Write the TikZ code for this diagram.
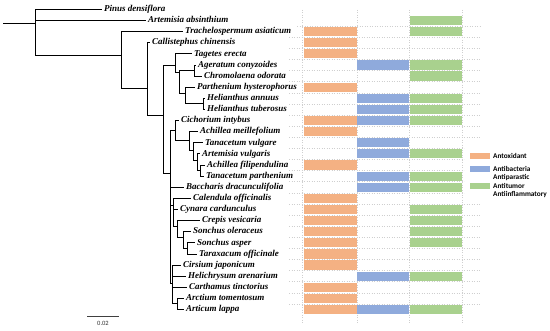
\documentclass[tikz,border=0pt]{standalone}
\usepackage{fontspec}
\setmainfont{Liberation Serif}
\newfontfamily\legfont{Carlito}
\definecolor{cOr}{HTML}{F4B183}
\definecolor{cBl}{HTML}{8FAADC}
\definecolor{cGr}{HTML}{A9D18E}
\definecolor{cGrid}{HTML}{CFCFCF}
\begin{document}
\begin{tikzpicture}[x=1pt,y=-1pt,
  tree/.style={line width=0.85pt,line cap=rect,black},
  leaf/.style={anchor=west,inner xsep=2.5pt,inner ysep=0pt,text height=6.3pt,text depth=1.8pt,
    font=\fontsize{9}{10}\selectfont\bfseries\itshape},
  gridln/.style={cGrid,line width=0.5pt,dotted},
  legbox/.style={minimum width=20pt,minimum height=6pt,inner sep=0pt,draw=none},
  legtxt/.style={anchor=west,inner sep=0pt,font=\legfont\fontsize{7.3}{8}\selectfont\bfseries}]
\useasboundingbox[fill=white] (0,0) rectangle (550,331);
\def\RY#1{9.4+(#1-1)*11.115}
% ---- grid ----
\foreach \gx in {302,357,409.5,462}
  \draw[gridln] (\gx,10) -- (\gx,323);
\foreach \k in {2,...,27}{
  \pgfmathsetmacro{\gy}{9.4+(\k-0.5)*11.115}
  \pgfmathsetmacro{\gxe}{(\gy>145 && \gy<197) ? 464 : 480}
  \pgfmathsetmacro{\gxs}{(\k==2) ? 297 : 289}
  \draw[gridln] (\gxs,\gy) -- (\gxe,\gy);
}
% ---- bars ----
\foreach \r in {3,4,5,8,11,12,15,18,19,20,21,22,23,24,26,27,28}
  \fill[cOr] (304,{\RY{\r}-4.6}) rectangle (356.7,{\RY{\r}+4.6});
\foreach \r in {6,9,10,11,13,14,16,17,25,28}
  \fill[cBl] (357.3,{\RY{\r}-4.6}) rectangle (409.2,{\RY{\r}+4.6});
\foreach \r in {2,3,6,7,9,10,11,14,16,17,19,20,21,22,25,28}
  \fill[cGr] (409.8,{\RY{\r}-4.6}) rectangle (462,{\RY{\r}+4.6});
% ---- leaves ----
\node[leaf] (L1) at (101.5,{\RY{1}}) {Pinus densiflora};
\node[leaf] (L2) at (145.5,{\RY{2}}) {Artemisia absinthium};
\node[leaf] (L3) at (182.5,{\RY{3}}) {Trachelospermum asiaticum};
\node[leaf] (L4) at (149.5,{\RY{4}}) {Callistephus chinensis};
\node[leaf] (L5) at (191.5,{\RY{5}}) {Tagetes erecta};
\node[leaf] (L6) at (195.5,{\RY{6}}) {Ageratum conyzoides};
\node[leaf] (L7) at (201.5,{\RY{7}}) {Chromolaena odorata};
\node[leaf] (L8) at (194.5,{\RY{8}}) {Parthenium hysterophorus};
\node[leaf] (L9) at (204.5,{\RY{9}}) {Helianthus annuus};
\node[leaf] (L10) at (204.5,{\RY{10}}) {Helianthus tuberosus};
\node[leaf] (L11) at (178.5,{\RY{11}}) {Cichorium intybus};
\node[leaf] (L12) at (197.5,{\RY{12}}) {Achillea meillefolium};
\node[leaf] (L13) at (202.5,{\RY{13}}) {Tanacetum vulgare};
\node[leaf] (L14) at (199.5,{\RY{14}}) {Artemisia vulgaris};
\node[leaf] (L15) at (204.5,{\RY{15}}) {Achillea filipendulina};
\node[leaf] (L16) at (203.5,{\RY{16}}) {Tanacetum parthenium};
\node[leaf] (L17) at (183.5,{\RY{17}}) {Baccharis dracunculifolia};
\node[leaf] (L18) at (190.5,{\RY{18}}) {Calendula officinalis};
\node[leaf] (L19) at (177.5,{\RY{19}}) {Cynara cardunculus};
\node[leaf] (L20) at (199.5,{\RY{20}}) {Crepis vesicaria};
\node[leaf] (L21) at (190.5,{\RY{21}}) {Sonchus oleraceus};
\node[leaf] (L22) at (194.5,{\RY{22}}) {Sonchus asper};
\node[leaf] (L23) at (196.5,{\RY{23}}) {Taraxacum officinale};
\node[leaf] (L24) at (180.5,{\RY{24}}) {Cirsium japonicum};
\node[leaf] (L25) at (185.5,{\RY{25}}) {Helichrysum arenarium};
\node[leaf] (L26) at (186.5,{\RY{26}}) {Carthamus tinctorius};
\node[leaf] (L27) at (183.5,{\RY{27}}) {Arctium tomentosum};
\node[leaf] (L28) at (183.5,{\RY{28}}) {Articum lappa};
% ---- internal nodes ----
\coordinate (R0) at (3,23);
\coordinate (R) at (35,23);
\coordinate (N1) at (121,55);
\coordinate (N2) at (147,88);
\coordinate (N3) at (163,115);
\coordinate (N4) at (175,65);
\coordinate (N4a) at (179,72);
\coordinate (N6) at (194,70.5);
\coordinate (N7) at (185,93);
\coordinate (N8) at (203,103.9);
\coordinate (N5) at (170,173);
\coordinate (N9) at (175,130);
\coordinate (N12) at (189,140);
\coordinate (N13) at (193,150);
\coordinate (N14) at (197,160);
\coordinate (N15) at (200,170.6);
\coordinate (N10) at (173,205);
\coordinate (N16) at (177,226);
\coordinate (N17) at (183,237);
\coordinate (N18) at (187,248.4);
\coordinate (N11) at (172.5,283);
\coordinate (N19) at (177,303.9);
% ---- edges ----
\draw[tree] (R0) -- (R);
\draw[tree] (R) |- (L1.west);
\draw[tree] (R) |- (L2.west);
\draw[tree] (R) |- (N1);
\draw[tree] (N1) |- (L3.west);
\draw[tree] (N1) |- (N2);
\draw[tree] (N2) |- (L4.west);
\draw[tree] (N2) |- (N3);
\draw[tree] (N3) |- (N4);
\draw[tree] (N3) |- (N5);
\draw[tree] (N4) |- (L5.west);
\draw[tree] (N4) |- (N4a);
\draw[tree] (N4a) |- (N6);
\draw[tree] (N4a) |- (N7);
\draw[tree] (N6) |- (L6.west);
\draw[tree] (N6) |- (L7.west);
\draw[tree] (N7) |- (L8.west);
\draw[tree] (N7) |- (N8);
\draw[tree] (N8) |- (L9.west);
\draw[tree] (N8) |- (L10.west);
\draw[tree] (N5) |- (N9);
\draw[tree] (N5) |- (L17.west);
\draw[tree] (N5) |- (N10);
\draw[tree] (N5) |- (N11);
\draw[tree] (N9) |- (L11.west);
\draw[tree] (N9) |- (N12);
\draw[tree] (N12) |- (L12.west);
\draw[tree] (N12) |- (N13);
\draw[tree] (N13) |- (L13.west);
\draw[tree] (N13) |- (N14);
\draw[tree] (N14) |- (L14.west);
\draw[tree] (N14) |- (N15);
\draw[tree] (N15) |- (L15.west);
\draw[tree] (N15) |- (L16.west);
\draw[tree] (N10) |- (L18.west);
\draw[tree] (N10) |- (L19.west);
\draw[tree] (N10) |- (N16);
\draw[tree] (N16) |- (L20.west);
\draw[tree] (N16) |- (N17);
\draw[tree] (N17) |- (L21.west);
\draw[tree] (N17) |- (N18);
\draw[tree] (N18) |- (L22.west);
\draw[tree] (N18) |- (L23.west);
\draw[tree] (N11) |- (L24.west);
\draw[tree] (N11) |- (L25.west);
\draw[tree] (N11) |- (L26.west);
\draw[tree] (N11) |- (N19);
\draw[tree] (N19) |- (L27.west);
\draw[tree] (N19) |- (L28.west);
% ---- legend ----
\node[legbox,fill=cOr] (kO) at (480,156) {};
\node[legtxt] (tO) at (493,156) {Antoxidant};
\node[legbox,fill=cBl] (kB) at (480,169) {};
\node[legtxt] (tB1) at (493,168.5) {Antibacteria};
\node[legtxt] (tB2) at (493,177.5) {Antiparastic};
\node[legbox,fill=cGr] (kG) at (480,186) {};
\node[legtxt] (tG1) at (493,186) {Antitumor};
\node[legtxt] (tG2) at (493,194.5) {Antiinflammatory};
% ---- scale bar ----
\coordinate (sb1) at (87,316);
\coordinate (sb2) at (119,316);
\draw[line width=0.8pt,black!75] (sb1) -- (sb2);
\node[inner sep=0pt,font=\legfont\fontsize{6.5}{7}\selectfont,text=black!80] (sbt) at (103,323.5) {0.02};
\end{tikzpicture}
\end{document}
